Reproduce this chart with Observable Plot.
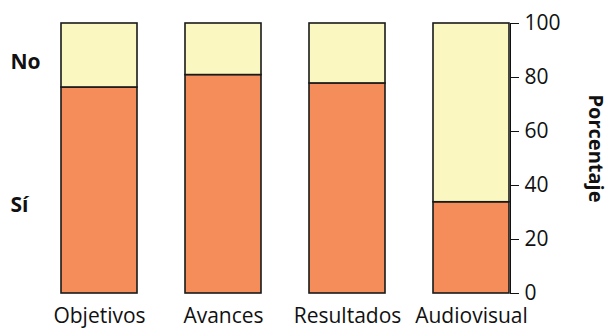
<!DOCTYPE html>
<html>
<head>
<meta charset="utf-8">
<script src="https://cdn.jsdelivr.net/npm/d3@7"></script>
<script src="https://cdn.jsdelivr.net/npm/@observablehq/plot@0.6"></script>
<style>
  html, body { margin: 0; padding: 0; background: #fff; }
  svg { font-family: "Open Sans", sans-serif; }
</style>
</head>
<body>
<div id="chart"></div>
<script>
const categories = ["Objetivos", "Avances", "Resultados", "Audiovisual"];
const responses = ["Sí", "No"];
const siValues = [76.3, 80.9, 77.8, 33.8];
const noValues = [23.7, 19.1, 22.2, 66.2];
const yTicks = [0, 20, 40, 60, 80, 100];
const legendLabels = ["No", "Sí"];
const legendY = [85.6, 32.6];
const colors = ["#f58d5b", "#fbf7c1"];

const rows = [];
categories.forEach((c, i) => {
  rows.push({category: c, response: "Sí", value: siValues[i]});
  rows.push({category: c, response: "No", value: noValues[i]});
});
const legend = legendLabels.map((t, i) => ({label: t, y: legendY[i]}));

const chart = Plot.plot({
  width: 611,
  height: 331,
  marginLeft: 59,
  marginRight: 101,
  marginTop: 23,
  marginBottom: 38,
  style: {fontSize: "21px", fontFamily: "Open Sans, sans-serif", color: "#111", background: "white"},
  x: {domain: categories, paddingInner: 0.39, paddingOuter: 0, label: null, tickSize: 0, tickPadding: 15},
  y: {domain: [0, 100], ticks: yTicks, axis: "right", label: null, tickSize: 8, tickPadding: 6, line: true},
  color: {domain: responses, range: colors},
  marks: [
    Plot.barY(rows, {x: "category", y: "value", fill: "response", stroke: "#1a1a1a", strokeWidth: 1.6}),
    Plot.text(legend, {text: "label", y: "y", frameAnchor: "left", dx: -49, textAnchor: "start", fontWeight: "bold", fontSize: 21}),
    Plot.text(["Porcentaje"], {frameAnchor: "right", textAnchor: "middle", rotate: 90, dx: 85, dy: -10, fontWeight: "bold", fontSize: 20})
  ]
});
document.getElementById("chart").appendChild(chart);
</script>
</body>
</html>
